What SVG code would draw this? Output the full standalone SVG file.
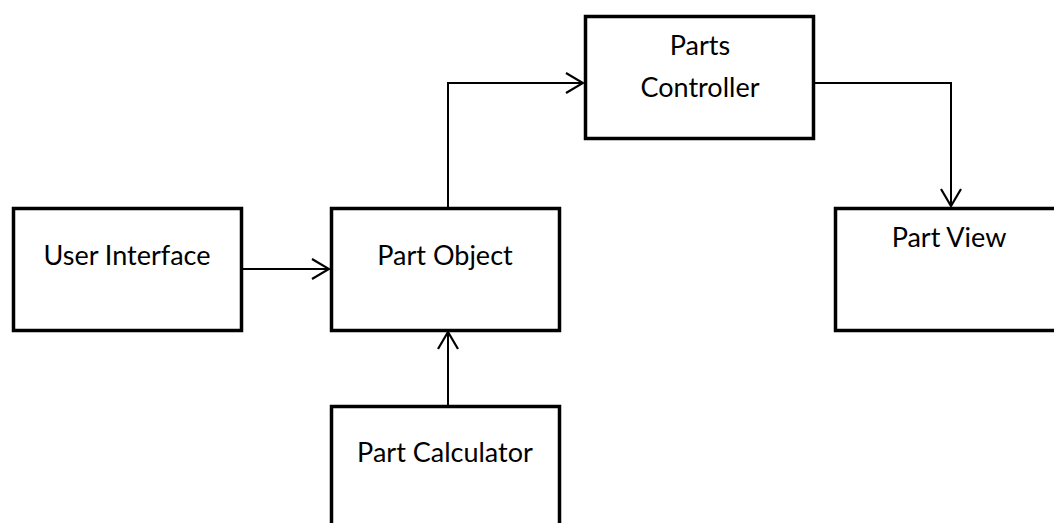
<svg xmlns="http://www.w3.org/2000/svg" width="1054" height="523" viewBox="0 0 1054 523">
<style>
.box{fill:#fff;stroke:#000;stroke-width:3.5}
.lbl{font-family:Lato,"Open Sans","Liberation Sans",sans-serif;font-size:27px;fill:#000;text-anchor:middle}
.con{fill:none;stroke:#000;stroke-width:2}
</style>
<defs>
<marker id="arr" viewBox="0 0 20 24" refX="18" refY="12" markerWidth="20" markerHeight="24" markerUnits="userSpaceOnUse" orient="auto">
<path d="M1,2 L18,12 L1,22" fill="none" stroke="#000" stroke-width="2.2"/>
</marker>
</defs>
<g id="user-interface"><rect class="box" x="13.5" y="208.5" width="228" height="122"/><text class="lbl" x="127" y="265">User Interface</text></g>
<g id="part-object"><rect class="box" x="331.5" y="208.5" width="228" height="122"/><text class="lbl" x="445" y="265">Part Object</text></g>
<g id="parts-controller"><rect class="box" x="585.5" y="16.5" width="228" height="122"/><text class="lbl" x="700" y="55">Parts</text><text class="lbl" x="700" y="97">Controller</text></g>
<g id="part-view"><rect class="box" x="835.5" y="208.5" width="228" height="122"/><text class="lbl" x="949" y="247">Part View</text></g>
<g id="part-calculator"><rect class="box" x="331.5" y="406.5" width="228" height="130"/><text class="lbl" x="445" y="462">Part Calculator</text></g>
<g id="connectors">
<path class="con" d="M243,269 L329,269" marker-end="url(#arr)"/>
<path class="con" d="M448,207 L448,83 L583,83" marker-end="url(#arr)"/>
<path class="con" d="M815,83 L951,83 L951,206" marker-end="url(#arr)"/>
<path class="con" d="M448,405 L448,332" marker-end="url(#arr)"/>
</g>
</svg>
